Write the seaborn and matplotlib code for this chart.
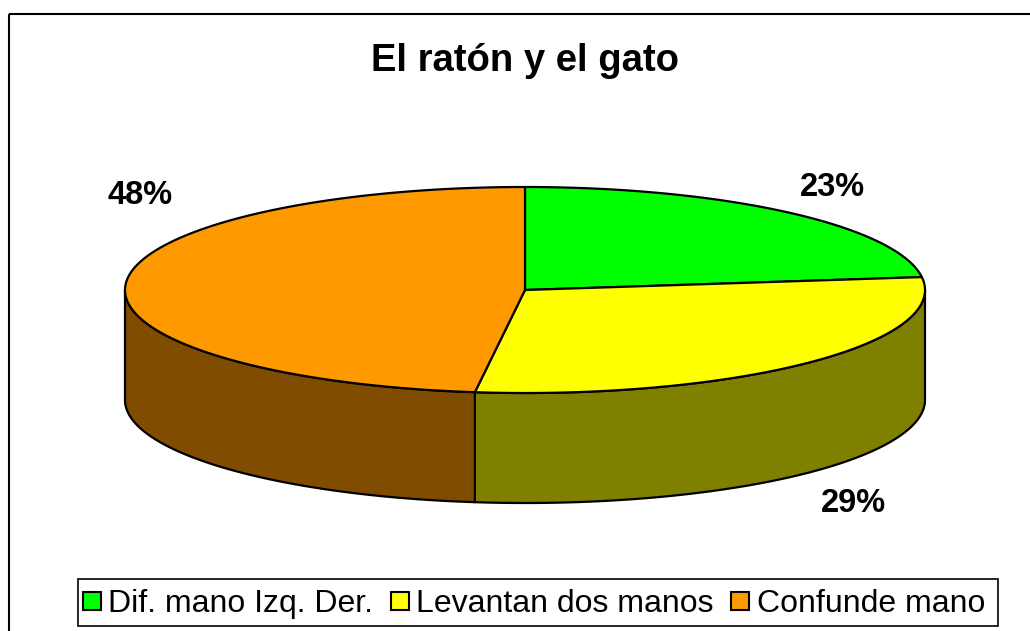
import numpy as np
import matplotlib
matplotlib.use("Agg")
import matplotlib.pyplot as plt
import seaborn as sns
from matplotlib.patches import Polygon, Rectangle
from matplotlib.lines import Line2D

# ---- data ----
categories = ["Dif. mano Izq. Der.", "Levantan dos manos", "Confunde mano"]
values = [23, 29, 48]
pct_labels = ["23%", "29%", "48%"]
top_colors = ["#00FF00", "#FFFF00", "#FF9900"]
side_colors = ["#008000", "#808000", "#804C00"]
title = "El ratón y el gato"

sns.set_theme(style="white")
plt.rcParams["font.family"] = ["Liberation Sans", "DejaVu Sans"]
plt.rcParams["text.color"] = "black"

W, H = 1030, 631
fig = plt.figure(figsize=(W / 100, H / 100), dpi=100)
ax = fig.add_axes([0, 0, 1, 1])
ax.set_xlim(0, W)
ax.set_ylim(H, 0)
ax.axis("off")

# chart area border
ax.add_patch(Rectangle((8.5, 13.5), 1040, 640, fill=False, ec="black", lw=1.5, zorder=1))

cx, cy, a, b, depth = 525, 290, 400, 103, 110
lw = 1.6

fracs = np.array(values, dtype=float) / sum(values)
bounds = np.pi / 2 - 2 * np.pi * np.concatenate([[0], np.cumsum(fracs)])

def pt(t, dy=0):
    return cx + a * np.cos(t), cy - b * np.sin(t) + dy

# side faces (front half: sin(t) < 0)
for i in range(len(values)):
    t0, t1 = bounds[i], bounds[i + 1]  # t0 > t1 (clockwise)
    for k in range(-2, 2):
        lo, hi = -np.pi + 2 * np.pi * k, 0 + 2 * np.pi * k
        s, e = max(t1, lo), min(t0, hi)
        if e > s:
            ts = np.linspace(s, e, 200)
            xs, ys = pt(ts)
            xb, yb = pt(ts[::-1], depth)
            poly = np.column_stack([np.concatenate([xs, xb]), np.concatenate([ys, yb])])
            ax.add_patch(Polygon(poly, closed=True, fc=side_colors[i], ec="black", lw=lw,
                                 joinstyle="round", zorder=2))

# top faces
for i in range(len(values)):
    t0, t1 = bounds[i], bounds[i + 1]
    ts = np.linspace(t0, t1, 300)
    xs, ys = pt(ts)
    poly = np.column_stack([np.concatenate([[cx], xs]), np.concatenate([[cy], ys])])
    ax.add_patch(Polygon(poly, closed=True, fc=top_colors[i], ec="black", lw=lw,
                         joinstyle="round", zorder=3))

# percentage labels
label_pos = [(832, 187), (853, 503), (140, 195)]
for (x, y), s in zip(label_pos, pct_labels):
    ax.text(x, y, s, ha="center", va="center", fontsize=23.5, fontweight="bold",
            color="black", zorder=5)

ax.text(525, 61, title, ha="center", va="center", fontsize=27.5, fontweight="bold",
        color="black", zorder=5)

# legend
ax.add_patch(Rectangle((78, 579), 920, 47, fill=True, fc="white", ec="black", lw=1.2, zorder=4))
handles = [Line2D([], [], marker="s", ls="none", markersize=12.5, markerfacecolor=c,
                  markeredgecolor="black", markeredgewidth=1.5) for c in top_colors]
leg = fig.legend(handles, categories, loc="center", bbox_to_anchor=(534 / W, 1 - 604 / H),
                 ncol=3, frameon=False, fontsize=23, handlelength=0.55, handletextpad=0.25,
                 columnspacing=0.55, borderpad=0)
for t in leg.get_texts():
    t.set_color("black")
leg.set_zorder(6)

fig.savefig("out.png", dpi=100)
